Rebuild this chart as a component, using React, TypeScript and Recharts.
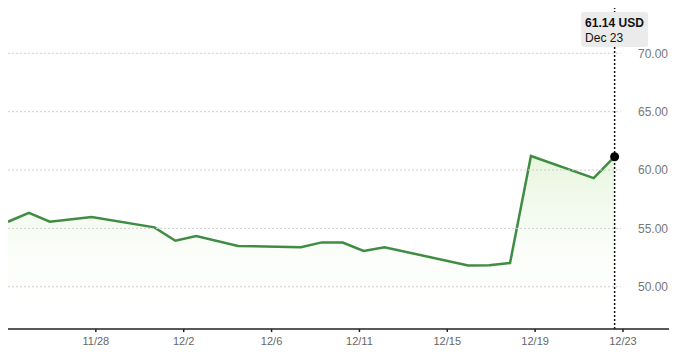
import {
  AreaChart,
  Area,
  XAxis,
  YAxis,
  ReferenceLine,
  ReferenceDot,
} from 'recharts';

// trading days, counted from 11/24
const pointDates = [
  '11/24', '11/25', '11/26', '11/28', '12/1', '12/2', '12/3', '12/5', '12/8', '12/9',
  '12/10', '12/11', '12/12', '12/16', '12/17', '12/18', '12/19', '12/22', '12/23',
];
const pointDays = [0, 1, 2, 4, 7, 8, 9, 11, 14, 15, 16, 17, 18, 22, 23, 24, 25, 28, 29];
const prices = [
  55.57, 56.34, 55.57, 55.97, 55.09, 53.94, 54.34, 53.49, 53.38, 53.8,
  53.78, 53.06, 53.38, 51.83, 51.85, 52.03, 61.2, 59.31, 61.14,
];

const tickDays = [4.2, 8.4, 12.6, 16.8, 21.0, 25.2, 29.4];
const tickLabels = ['11/28', '12/2', '12/6', '12/11', '12/15', '12/19', '12/23'];

const priceTicks = [50, 55, 60, 65, 70];

const lastPrice = prices[prices.length - 1];
const lastDay = pointDays[pointDays.length - 1];

const rows = pointDays.map((day, i) => ({
  day,
  date: pointDates[i],
  price: prices[i],
}));

const PriceTag = (props: any) => {
  const vx = props.viewBox?.x ?? 0;
  return (
    <g>
      <rect x={vx - 33.5} y={4} width={67} height={35} rx={3} fill='#ebebeb' />
      <text x={vx - 29.5} y={19} fontSize={12} fontWeight={600} fill='#111'>
        {lastPrice.toFixed(2)} USD
      </text>
      <text x={vx - 29.5} y={33.5} fontSize={12} fill='#111'>
        Dec 23
      </text>
    </g>
  );
};

export default function App() {
  return (
    <div style={{ fontFamily: '"Liberation Sans", Arial, sans-serif' }}>
      <AreaChart
        width={661}
        height={341}
        data={rows}
        margin={{ top: 0, right: 0, left: 0, bottom: 0 }}
      >
        <defs>
          <linearGradient id='priceFill' x1='0' y1='0' x2='0' y2='1'>
            <stop offset='0%' stopColor='#dcf1cf' stopOpacity={0.7} />
            <stop offset='100%' stopColor='#ffffff' stopOpacity={0} />
          </linearGradient>
        </defs>
        <XAxis
          dataKey='day'
          type='number'
          domain={[0, 31.6]}
          allowDataOverflow
          ticks={tickDays}
          interval={0}
          tickFormatter={(v: number) => tickLabels[tickDays.indexOf(v)] ?? ''}
          height={20}
          tickSize={3}
          tickMargin={5}
          axisLine={{ stroke: '#222', strokeWidth: 1.5 }}
          tickLine={{ stroke: '#222', strokeWidth: 1.5 }}
          tick={{ fontSize: 11, fill: '#666' }}
        />
        <YAxis
          orientation='right'
          mirror
          width={1}
          domain={[46.38, 73.88]}
          allowDataOverflow
          ticks={priceTicks}
          interval={0}
          axisLine={false}
          tickLine={false}
          tickSize={0}
          tickMargin={1}
          tickFormatter={(v: number) => v.toFixed(2)}
          tick={{ fontSize: 12, fill: '#777' }}
        />
        {priceTicks.map((p) => (
          <ReferenceLine
            key={p}
            segment={[
              { x: 0, y: p },
              { x: 29.3, y: p },
            ]}
            stroke='#cfcfcf'
            strokeDasharray='2 2'
          />
        ))}
        <Area
          type='linear'
          dataKey='price'
          stroke='#3f8c42'
          strokeWidth={2.5}
          fill='url(#priceFill)'
          fillOpacity={1}
          dot={false}
          activeDot={false}
          isAnimationActive={false}
        />
        <ReferenceLine
          x={lastDay}
          stroke='#111'
          strokeWidth={1.5}
          strokeDasharray='2 2'
          label={<PriceTag />}
        />
        <ReferenceDot
          x={lastDay}
          y={lastPrice}
          r={4.5}
          fill='#000'
          stroke='none'
        />
      </AreaChart>
    </div>
  );
}
